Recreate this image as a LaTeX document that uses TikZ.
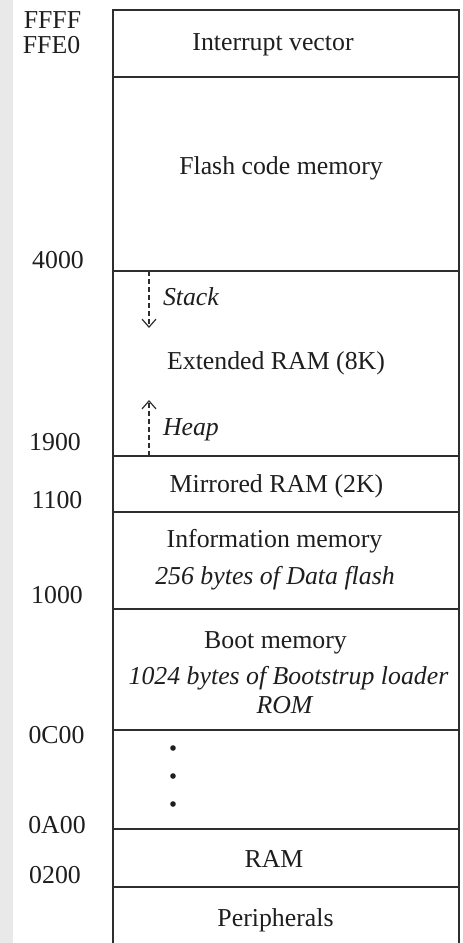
\documentclass[tikz,border=0pt]{standalone}
\usepackage{fontspec}
\setmainfont{Liberation Serif}
\usetikzlibrary{arrows.meta}
\definecolor{linec}{HTML}{2E2E2E}
\definecolor{textc}{HTML}{1E1E1E}
\definecolor{stripc}{HTML}{E9E9E9}
\begin{document}
\begin{tikzpicture}[x=0.5pt,y=-0.5pt,
  every node/.style={inner sep=0pt,outer sep=0pt,text=textc,font=\fontsize{12.9}{15}\selectfont},
  region/.style={anchor=base},
  regit/.style={anchor=base,font=\fontsize{12.9}{15}\selectfont\itshape},
  addr/.style={anchor=base},
  boxline/.style={draw=linec,line width=1pt},
  growarrow/.style={draw=linec,line width=0.6pt,dash pattern=on 2.5pt off 1.5pt,-{Straight Barb[length=4pt,width=7pt,line width=0.6pt]}},
  dotmark/.style={circle,fill=textc,minimum size=2.8pt,inner sep=0pt}
]
\useasboundingbox (0,0) rectangle (462,943);
\fill[white] (0,0) rectangle (462,943);
\fill[stripc] (0,0) rectangle (13,943);

% frame
\coordinate (TL) at (113,10);
\coordinate (TR) at (459,10);
\coordinate (BL) at (113,943);
\coordinate (BR) at (459,943);
\draw[boxline] (BL) -- (TL) -- (TR) -- (BR);
\foreach \yy/\nm in {77/a,271/b,456/c,512/d,609/e,730/f,829/g,887/h}{
  \coordinate (L\nm) at (113,\yy);
  \coordinate (R\nm) at (459,\yy);
  \draw[boxline] (L\nm) -- (R\nm);
}

% region texts
\node[region] (intv) at (273,50) {Interrupt vector};
\node[region] (flash) at (281,174) {Flash code memory};
\node[regit,anchor=base west] (stack) at (163,305) {Stack};
\node[region] (ext) at (276,369) {Extended RAM (8K)};
\node[regit,anchor=base west] (heap) at (163,435) {Heap};
\node[region] (mirr) at (276.5,492) {Mirrored RAM (2K)};
\node[region] (info) at (274.5,547) {Information memory};
\node[regit] (info2) at (275,584) {256 bytes of Data flash};
\node[region] (boot) at (275.5,648) {Boot memory};
\node[regit] (boot2) at (288.5,684) {1024 bytes of Bootstrup loader};
\node[regit] (boot3) at (284.5,713) {ROM};
\node[region] (ram) at (274,867) {RAM};
\node[region] (peri) at (275.5,926) {Peripherals};

% dots
\node[dotmark] (d1) at (173,748) {};
\node[dotmark] (d2) at (173,776) {};
\node[dotmark] (d3) at (173,804) {};

% growth arrows
\coordinate (stackS) at (149,271);
\coordinate (stackE) at (149,328);
\coordinate (heapS) at (149,456);
\coordinate (heapE) at (149,400);
\draw[growarrow] (stackS) -- (stackE);
\draw[growarrow] (heapS) -- (heapE);

% addresses
\node[addr] (aFFFF) at (52.5,28) {FFFF};
\node[addr] (aFFE0) at (51.5,53) {FFE0};
\node[addr] (a4000) at (58,268) {4000};
\node[addr] (a1900) at (55,450) {1900};
\node[addr] (a1100) at (57,508) {1100};
\node[addr] (a1000) at (57,603) {1000};
\node[addr] (a0C00) at (56.5,743) {0C00};
\node[addr] (a0A00) at (57,833) {0A00};
\node[addr] (a0200) at (55,883) {0200};
\end{tikzpicture}
\end{document}
